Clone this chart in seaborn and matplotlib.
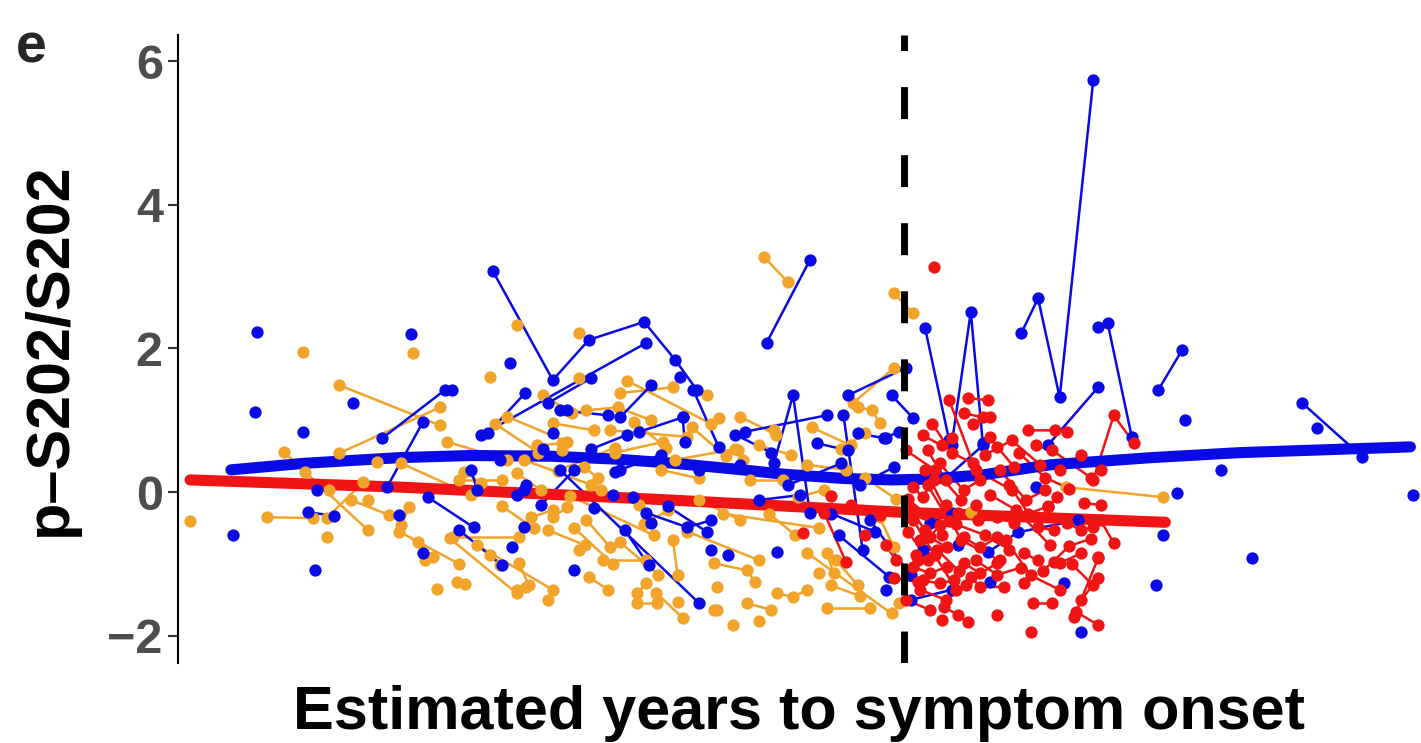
import numpy as np
import pandas as pd
import matplotlib
matplotlib.use("Agg")
import matplotlib.pyplot as plt
import seaborn as sns

# --- data: one inner list per subject (estimated years to onset, p-S202/S202) ---
orange_x = [[-29.7], [-25.0], [-20.4], [-23.5, -19.3], [-23.5, -19.3], [-25.8, -24.9, -22.3],
            [-21.9], [-26.5, -24.6], [-24.0], [-24.0, -22.5], [-20.9, -18.0], [-20.9, -20.6],
            [-19.4], [-18.6, -18.25], [-22.3], [-18.9, -16.1], [-17.75, -14.6], [-15.7],
            [-14.8], [-16.0, -15.6], [-13.2, -12.2], [-13.5], [-13.1, -12.3], [-11.1, -10.25],
            [-9.4], [-11.1, -10.7], [-9.6, -9.4], [-15.25, -14.2], [-18.3, -17.6], [-16.1, -15.1],
            [-14.6, -14.0], [-13.3, -12.7], [-14.8, -13.25], [-16.1], [-17.2], [-13.5],
            [-11.8, -9.6], [-8.2], [-13.2, -11.9, -10.5], [-12.2, -9.0], [-13.5], [-14.6, -12.9],
            [-14.2], [-18.5, -16.7], [-15.5, -14.6], [-18.75, -16.0], [-16.1], [-7.9],
            [-12.5, -10.7], [-5.8, -4.8], [-0.4, 0.4], [-2.1, -0.4], [-7.7], [-1.9, -1.3, -1.0],
            [-5.4], [-6.9, -6.7], [-6.4, -5.0], [-4.4, -3.3], [-4.0, -0.5], [-3.2, -2.9],
            [-3.5], [-7.9, -6.5, -6.2], [-7.75], [-5.25, -4.6, -4.0], [-6.5, -5.5], [-7.75],
            [-7.1], [-3.2, -1.4], [-0.2], [6.75, 10.8], [2.8], [-1.0, -0.4], [-6.0, -4.7],
            [-4.0, -2.4], [-23.9], [-23.0, -21.4], [-12.6, -11.0], [-10.1, -8.5], [-19.9],
            [-17.2, -16.8], [-8.5, -6.8], [-16.5, -14.0], [-12.0, -10.0], [-11.5, -8.0],
            [-9.5, -7.0], [-15.8, -13.0], [-10.8, -9.8], [-19.0, -16.5], [-2.6, -1.6],
            [-7.5, -3.5], [-13.9, -10.4], [-21.0, -18.5],
            [-17.0, -15.2], [-14.4, -12.0], [-11.2, -9.9], [-8.8, -7.4], [-16.7, -15.4],
            [-13.7, -12.1], [-11.8, -10.2], [-9.0, -6.0], [-5.6, -4.5], [-2.8, -1.9],
            [-20.2, -19.6], [-6.8, -5.3], [-3.8, -2.2], [-1.6, -0.3], [-15.0, -13.8],
            [-10.3, -9.2], [-6.0], [-3.0, -1.8]]
orange_y = [[-0.40], [1.95], [1.94], [1.49, 0.93], [0.54, 1.18], [0.56, 0.28, -0.53],
            [0.42], [-0.35, -0.36], [-0.63], [-0.36, 0.14], [0.40, -0.04], [-0.46, -0.21],
            [-1.35], [-1.25, -1.28], [-0.11], [-0.64, -1.41], [-0.74, -1.36], [-1.32],
            [-1.50], [-0.99, -1.30], [-0.39, -0.77], [-0.81], [-1.18, -1.36], [-1.55, -1.55],
            [-1.53], [-1.41, -1.27], [-0.67, -1.16], [0.65, 0.68], [0.28, 0.13], [0.26, 0.03],
            [-0.35, -0.21], [0.35, 0.19], [-0.53, -0.74], [2.33], [1.60], [2.21],
            [1.38, 1.46], [1.35], [1.14, 1.18, 1.00], [0.86, 0.77], [1.59], [0.96, 0.86],
            [0.58], [0.17, 0.17], [-0.35, -0.25], [-0.63, -0.63], [-1.36], [-1.64],
            [-0.95, -0.95], [3.27, 2.92], [2.77, 2.49], [1.24, 1.73], [1.03], [1.18, 1.14, 0.96],
            [0.86], [0.58, 0.45], [0.17, 0.17], [-0.07, 0.03], [-0.85, -1.69], [-0.85, -1.13],
            [-1.13], [-0.99, -1.09, -1.25], [-1.32], [-1.41, -1.46, -1.36], [-1.55, -1.64], [-1.64],
            [-1.85], [-1.62, -1.62], [-1.55], [0.07, -0.07], [-0.28], [-0.35, -0.77], [0.65, 0.52],
            [0.38, 0.31], [0.03], [-0.11, -0.32], [0.03, -0.18], [0.31, 0.19], [-0.95],
            [-0.88, -1.02], [-0.11, -0.39], [1.05, 0.70], [0.55, 0.70], [1.55, 0.95],
            [0.45, 0.60], [0.45, 0.10], [-0.45, -0.25], [0.70, 0.45], [0.60, 0.82],
            [-0.30, -0.50], [-0.05, -0.60], [-0.55, -1.00],
            [0.95, 0.55], [0.30, 0.62], [0.98, 0.62], [0.90, 0.50], [-0.20, -0.50],
            [-0.50, -1.00], [-0.70, -1.15], [-0.55, -0.95], [-0.30, -0.60], [-0.95, -1.30],
            [-0.70, -0.90], [1.05, 0.80], [0.90, 0.65], [0.20, -0.10], [1.35, 1.10],
            [-1.40, -1.75], [-1.80], [-1.30, -1.45]]

blue_x = [[-26.9], [-20.5], [-22.9], [-27.0], [-25.0], [-21.7, -19.1, -18.8], [-21.5, -20.0],
          [-24.4], [-24.8, -23.7], [-27.9], [-24.5], [-21.0], [-20.0], [-19.8, -17.9],
          [-17.1, -14.6, -13.1, -10.8, -9.5, -8.6], [-17.6, -10.7], [-16.4], [-17.3, -15.75],
          [-14.8, -13.0], [-14.3, -12.3], [-11.8, -10.5], [-8.75, -7.7], [-11.0, -9.2], [-14.0],
          [-18.0, -17.75], [-16.1, -15.8], [-18.5, -16.7], [-16.3], [-15.8], [-13.7],
          [-14.3, -8.5], [-11.6, -10.6], [-10.7, -9.0, -8.0], [-14.6], [-15.7], [-12.9],
          [-12.1, -11.25], [-12.0], [-10.5], [-5.7, -3.9], [-2.3, 0.1], [-5.4, -4.6, -3.9],
          [-6.6, -3.2], [-2.5, -1.7], [-1.9, -0.8, -0.2], [-3.6, -2.3], [-9.3], [-9.2, -9.1],
          [-5.25], [-7.3], [-2.7, -0.6], [0.9, 1.9], [2.0, 2.8, 3.3], [4.9, 5.6, 6.5, 7.9],
          [8.1, 8.5, 9.5], [6.0, 8.1], [10.6, 11.6], [11.7], [13.2], [11.4], [10.8], [14.5],
          [16.6, 19.1], [17.2], [21.2], [6.7], [7.4], [10.5], [5.5], [-0.5, 0.4], [-0.75],
          [1.75, 3.3], [1.1, 2.0], [0.8, 2.25], [3.5, 4.75, 7.25], [3.6], [-0.75], [-1.4, 0.3],
          [0.3, 2.0], [-11.8, -10.1], [-8.5, -6.8], [-6.0, -4.3], [-15.1, -13.7], [-8.0],
          [-4.8, -2.6], [-1.8, -0.4],
          [-13.0, -11.5], [-9.8, -8.2], [-7.0, -5.5], [-3.0, -1.2], [-16.8, -15.0]]
blue_y = [[2.23], [2.20], [1.24], [1.11], [0.84], [0.75, 1.42, 1.42], [0.07, 0.98],
          [0.03], [-0.28, -0.33], [-0.60], [-1.09], [-0.32], [-0.85], [-0.07, -0.49],
          [3.08, 1.56, 2.12, 2.37, 1.84, 1.42], [0.79, 2.08], [1.80], [0.82, 1.38],
          [1.24, 1.59], [1.14, 1.07], [1.04, 1.49], [1.42, 0.63], [0.84, 1.04], [1.14],
          [0.31, 0.03], [-0.04, 0.03], [-0.53, -1.02], [-0.77], [-0.49], [-1.09],
          [0.31, -1.55], [-0.53, -1.02], [-0.29, -0.49, -0.39], [0.82], [0.10], [-0.22],
          [-0.04, -0.07], [0.28], [-0.43], [2.08, 3.23], [1.35, 1.73], [0.40, 1.35, -0.29],
          [0.84, 1.07], [1.07, -0.81], [0.82, 0.75, 0.84], [0.68, 0.58], [1.60], [1.04, 0.70],
          [-0.84], [-0.88], [-0.60, -1.18], [2.28, 0.72], [0.65, 2.51, 0.68], [2.21, 2.70, 1.32, 5.74],
          [2.30, 2.35, 0.77], [0.65, 1.46], [1.42, 1.98], [1.00], [0.31], [-0.01], [-0.60], [-0.92],
          [1.24, 0.49], [0.89], [-0.04], [-1.27], [-1.95], [-1.30], [0.07], [1.35, 1.03], [0.75],
          [0.19, 0.65], [-0.43, -0.29], [-0.81, -0.74], [-0.84, -0.56, -0.39], [-1.25], [-1.36], [-0.39, -1.16],
          [-1.50, -1.36], [0.31, 0.52], [0.31, 0.38], [-0.11, -0.04], [-0.18, 0.31], [-0.81],
          [0.10, 0.40], [0.10, 0.35],
          [0.60, 0.80], [-0.20, -0.55], [0.80, 0.55], [-0.30, -0.55], [0.45, 0.60]]

red_x = [[1.25], [-4.2], [-3.3, -2.4], [-2.2, -1.0], [2.7, 3.5], [2.5, 3.3], [0.8, 1.6, 2.0],
         [5.2, 6.3, 6.8], [7.9, 8.75, 9.6], [5.5, 6.2, 7.8], [3.6, 3.9, 4.6], [1.5, 2.5, 3.2],
         [0.4, 0.8, 1.25], [6.0, 6.4], [7.5, 8.2], [2.25, 3.1, 3.9, 4.6], [5.6, 6.25],
         [6.8, 7.4, 7.9], [8.2, 8.75], [0.7, 1.1, 1.8], [2.5, 3.2, 3.9], [5.0, 5.6],
         [6.25, 6.5, 7.4], [8.1], [0.4, 1.1, 1.8], [2.5, 3.2, 3.9], [0.8, 1.5, 2.1],
         [2.8, 3.2, 4.2], [5.0], [7.1, 8.1], [7.2, 8.1], [7.4, 8.1], [5.4, 6.2],
         [1.7, 2.25, 2.7], [1.6], [3.9], [5.3], [0.1, 1.3, 2.4], [0.3, 0.9, 1.75],
         [0.5, 1.5, 3.0], [0.9, 2.4, 4.0], [1.9, 3.0, 4.5], [3.4, 4.5, 5.7], [4.0, 5.1, 5.9],
         [0.7, 1.75, 2.6], [0.1, 1.1], [3.6, 4.7, 6.1], [6.5, 7.4, 8.2], [4.25, 5.3, 6.5],
         [0.4, 1.3, 2.2], [1.0, 1.75], [-0.75, -0.3], [-3.0], [-1.6],
         [0.2, 0.9, 1.6], [1.2, 2.0, 2.9], [2.2, 3.4, 4.4], [4.4, 5.2, 6.0], [0.6, 1.4, 2.3],
         [3.0, 3.9, 4.9], [5.8, 6.9, 7.8], [1.0, 1.9], [2.9, 3.6], [4.8, 5.9, 6.9],
         [-0.4, 0.6], [0.2, 1.0], [7.0, 7.9]]
red_y = [[3.13], [-0.57], [-0.29, -0.97], [-0.18, -0.32], [1.31, 1.28], [1.10, 1.04], [0.79, 0.65, 0.75],
         [0.86, 0.86, 0.84], [0.17, 1.07, 0.68], [0.65, 0.58, 0.20], [0.77, 0.63, 0.35], [0.40, 0.03, 0.17],
         [0.07, -0.07, 0.17], [-0.21, -0.07], [-0.15, -0.18], [-0.29, -0.39, -0.35, -0.43], [-0.49, -0.53],
         [-0.43, -0.53, -0.49], [-0.39, -0.71], [-0.67, -0.63, -0.77], [-0.63, -0.77, -0.63], [-0.85, -0.95],
         [-0.97, -0.99, -0.85], [-0.91], [-1.04, -1.13, -1.04], [-0.99, -1.13, -0.99], [-1.23, -1.27, -1.23],
         [-1.18, -1.32, -1.32], [-1.27], [-1.74, -0.92], [-1.67, -1.85], [-1.50, -1.20], [-1.55, -1.55],
         [-1.60, -1.71, -1.81], [-1.78], [-1.71], [-1.95], [0.58, 0.31, -0.11], [-0.25, -0.53, -0.18],
         [-0.88, -0.46, -0.18], [0.31, -0.67, -0.95], [1.28, 0.31, 0.03], [0.52, 0.72, 0.38], [0.31, -0.11, 0.03],
         [-1.36, -1.50, -1.30], [-1.50, -1.64], [-0.04, -0.25, -0.74], [0.31, 0.52, 0.31], [-0.67, -1.16, -1.36],
         [-0.39, -0.88, -1.36], [0.58, 0.17], [-0.74, -0.95], [-0.05], [-0.60],
         [-0.10, -0.30, -0.60], [0.95, 0.55, 0.40], [-0.45, -0.60, -0.80], [0.10, -0.30, -0.20],
         [-0.95, -0.80, -1.10], [-0.95, -1.15, -1.05], [-1.10, -0.75, -0.65], [0.10, -0.40], [0.95, 1.05],
         [0.55, 0.20, 0.05], [-1.20, -1.25], [-0.55, -0.95], [-1.00, -1.30]]

# smoothed group trends
blue_trend_x = [-28.0, -25.0, -21.0, -18.0, -14.7, -12.0, -9.5, -7.0, -5.0, -2.5, -0.5, 1.0, 3.3, 6.1, 10.3, 14.0, 21.1]
blue_trend_y = [0.31, 0.40, 0.48, 0.51, 0.50, 0.46, 0.40, 0.32, 0.25, 0.19, 0.17, 0.18, 0.24, 0.38, 0.48, 0.55, 0.63]
red_trend_x = [-29.7, -21.0, -9.7, -0.1, 10.9]
red_trend_y = [0.17, 0.07, -0.11, -0.28, -0.42]

ORANGE = "#F2A42A"
BLUE = "#0A0AE6"
RED = "#F01414"


def to_frame(xs, ys):
    rows = []
    for sid in range(len(xs)):
        for a, b in zip(xs[sid], ys[sid]):
            rows.append((sid, a, b))
    return pd.DataFrame(rows, columns=["id", "years", "value"])


sns.set_style("white")
plt.rcParams["font.family"] = ["Liberation Sans", "DejaVu Sans"]
plt.rcParams["axes.unicode_minus"] = True

fig = plt.figure(figsize=(14.21, 7.43), dpi=100)
ax = fig.add_axes([0.1253, 0.1076, 0.874, 0.8453])

groups = [(orange_x, orange_y, ORANGE, 2.0), (blue_x, blue_y, BLUE, 2.1), (red_x, red_y, RED, 2.2)]
for xs, ys, col, z in groups:
    df = to_frame(xs, ys)
    sns.lineplot(data=df, x="years", y="value", units="id", estimator=None, sort=True,
                 color=col, lw=1.8, legend=False, ax=ax, zorder=z)

sns.lineplot(x=red_trend_x, y=red_trend_y, color=RED, lw=8, ax=ax, zorder=2.5)
sns.lineplot(x=blue_trend_x, y=blue_trend_y, color=BLUE, lw=8, ax=ax, zorder=2.6)

for xs, ys, col, z in groups:
    df = to_frame(xs, ys)
    sns.scatterplot(data=df, x="years", y="value", color=col, s=78, linewidth=0,
                    legend=False, ax=ax, zorder=z + 1)

ax.axvline(0, color="black", lw=5, dashes=(4.6, 5.2), zorder=4)

ax.set_xlim(-30.2, 21.5)
ax.set_ylim(-2.38, 6.365)
ax.set_xticks([])
ax.set_yticks([-2, 0, 2, 4, 6])
ax.set_yticklabels(["\u22122", "0", "2", "4", "6"], fontsize=35, fontweight="bold", color="#4D4D4D")
ax.tick_params(axis="y", length=7, width=1.5, color="#333333", pad=4, left=True)

for s in ["top", "right", "bottom"]:
    ax.spines[s].set_visible(False)
ax.spines["left"].set_color("black")
ax.spines["left"].set_linewidth(1.5)

ax.set_xlabel("Estimated years to symptom onset", fontsize=44, fontweight="bold", color="black")
ax.xaxis.set_label_coords(0.5, -0.035)
ax.set_ylabel("p\u2013S202/S202", fontsize=44, fontweight="bold", color="black")
ax.yaxis.set_label_coords(-0.08, 0.5)

fig.text(0.022, 0.935, "e", fontsize=40, fontweight="bold", ha="center", va="center")

fig.savefig("out.png", dpi=100)
